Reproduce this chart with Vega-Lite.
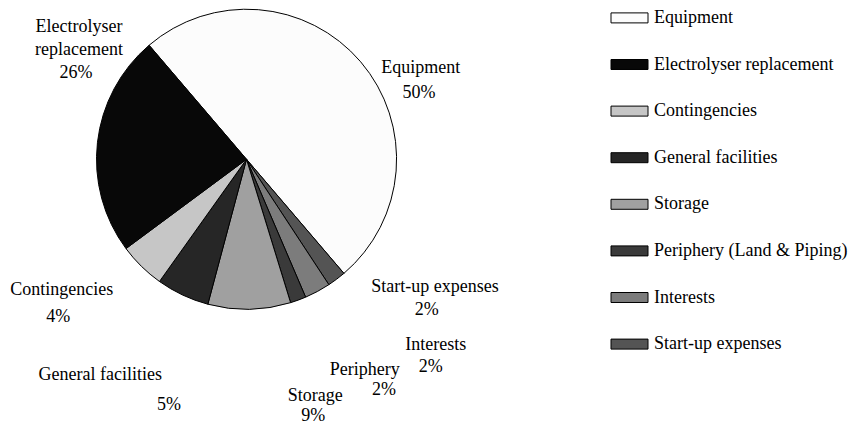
{
  "$schema": "https://vega.github.io/schema/vega-lite/v6.json",
  "width": 493,
  "height": 318.6,
  "autosize": "none",
  "padding": {"left": 0, "top": 0, "right": 363, "bottom": 106.4},
  "background": "white",
  "config": {"view": {"stroke": null}, "text": {"font": "Liberation Serif", "fontSize": 18, "fill": "black", "align": "center", "baseline": "middle", "radius": 150, "lineHeight": 23.3}},
  "data": {"values": [
    {"category": "Equipment", "label": "Equipment", "pct": "50%", "value": 50.0},
    {"category": "Start-up expenses", "label": "Start-up expenses", "pct": "2%", "value": 2.0},
    {"category": "Interests", "label": "Interests", "pct": "2%", "value": 2.8},
    {"category": "Periphery (Land & Piping)", "label": "Periphery", "pct": "2%", "value": 1.7},
    {"category": "Storage", "label": "Storage", "pct": "9%", "value": 8.9},
    {"category": "General facilities", "label": "General facilities", "pct": "5%", "value": 5.7},
    {"category": "Contingencies", "label": "Contingencies", "pct": "4%", "value": 5.0},
    {"category": "Electrolyser replacement", "label": "Electrolyser\nreplacement", "pct": "26%", "value": 23.9}
  ]},
  "transform": [
    {"stack": "value", "groupby": [], "as": ["v0", "v1"]},
    {"calculate": "(datum.v0 + datum.v1) / 2", "as": "vmid"}
  ],
  "layer": [
    {
      "mark": {"type": "arc", "radius": 150, "stroke": "black", "strokeWidth": 1},
      "encoding": {
        "theta": {"field": "v0", "type": "quantitative", "scale": {"domain": [0, 100], "range": [-0.70686, 5.57633]}},
        "theta2": {"field": "v1"},
        "color": {
          "field": "category", "type": "nominal",
          "scale": {
            "domain": ["Equipment", "Electrolyser replacement", "Contingencies", "General facilities", "Storage", "Periphery (Land & Piping)", "Interests", "Start-up expenses"],
            "range": ["#fcfcfc", "#080808", "#c6c6c6", "#262626", "#a0a0a0", "#3a3a3a", "#7c7c7c", "#545454"]
          },
          "legend": {
            "title": null, "orient": "none", "legendX": 610.5, "legendY": -1.1, "padding": 0,
            "symbolType": "M-1,-0.27H1V0.27H-1Z", "symbolSize": 1369,
            "symbolStrokeColor": "black", "symbolStrokeWidth": 1, "symbolOpacity": 1,
            "rowPadding": 18.6, "labelOffset": 5.5,
            "labelFont": "Liberation Serif", "labelFontSize": 18, "labelColor": "black", "labelLimit": 300
          }
        }
      }
    },
    {"transform": [{"filter": {"field": "category", "equal": "Equipment"}}], "mark": {"type": "text", "dx": 60.2, "dy": 6.4},
     "encoding": {"theta": {"field": "vmid", "type": "quantitative", "scale": {"domain": [0, 100], "range": [-0.70686, 5.57633]}}, "text": {"field": "label"}}},
    {"transform": [{"filter": {"field": "category", "equal": "Equipment"}}], "mark": {"type": "text", "dx": 58.4, "dy": 30.8},
     "encoding": {"theta": {"field": "vmid", "type": "quantitative", "scale": {"domain": [0, 100], "range": [-0.70686, 5.57633]}}, "text": {"field": "pct"}}},
    {"transform": [{"filter": {"field": "category", "equal": "Electrolyser replacement"}}], "mark": {"type": "text", "dx": -18.5, "dy": -115.8, "lineBreak": "\n"},
     "encoding": {"theta": {"field": "vmid", "type": "quantitative", "scale": {"domain": [0, 100], "range": [-0.70686, 5.57633]}}, "text": {"field": "label"}}},
    {"transform": [{"filter": {"field": "category", "equal": "Electrolyser replacement"}}], "mark": {"type": "text", "dx": -21.5, "dy": -69.7},
     "encoding": {"theta": {"field": "vmid", "type": "quantitative", "scale": {"domain": [0, 100], "range": [-0.70686, 5.57633]}}, "text": {"field": "pct"}}},
    {"transform": [{"filter": {"field": "category", "equal": "Contingencies"}}], "mark": {"type": "text", "dx": -79.7, "dy": 23.6},
     "encoding": {"theta": {"field": "vmid", "type": "quantitative", "scale": {"domain": [0, 100], "range": [-0.70686, 5.57633]}}, "text": {"field": "label"}}},
    {"transform": [{"filter": {"field": "category", "equal": "Contingencies"}}], "mark": {"type": "text", "dx": -83.2, "dy": 50.3},
     "encoding": {"theta": {"field": "vmid", "type": "quantitative", "scale": {"domain": [0, 100], "range": [-0.70686, 5.57633]}}, "text": {"field": "pct"}}},
    {"transform": [{"filter": {"field": "category", "equal": "General facilities"}}], "mark": {"type": "text", "dx": -82.3, "dy": 80},
     "encoding": {"theta": {"field": "vmid", "type": "quantitative", "scale": {"domain": [0, 100], "range": [-0.70686, 5.57633]}}, "text": {"field": "label"}}},
    {"transform": [{"filter": {"field": "category", "equal": "General facilities"}}], "mark": {"type": "text", "dx": -13.6, "dy": 110},
     "encoding": {"theta": {"field": "vmid", "type": "quantitative", "scale": {"domain": [0, 100], "range": [-0.70686, 5.57633]}}, "text": {"field": "pct"}}},
    {"transform": [{"filter": {"field": "category", "equal": "Storage"}}], "mark": {"type": "text", "dx": 66, "dy": 86.4},
     "encoding": {"theta": {"field": "vmid", "type": "quantitative", "scale": {"domain": [0, 100], "range": [-0.70686, 5.57633]}}, "text": {"field": "label"}}},
    {"transform": [{"filter": {"field": "category", "equal": "Storage"}}], "mark": {"type": "text", "dx": 64, "dy": 106.5},
     "encoding": {"theta": {"field": "vmid", "type": "quantitative", "scale": {"domain": [0, 100], "range": [-0.70686, 5.57633]}}, "text": {"field": "pct"}}},
    {"transform": [{"filter": {"field": "category", "equal": "Periphery (Land & Piping)"}}], "mark": {"type": "text", "dx": 66.5, "dy": 69.6},
     "encoding": {"theta": {"field": "vmid", "type": "quantitative", "scale": {"domain": [0, 100], "range": [-0.70686, 5.57633]}}, "text": {"field": "label"}}},
    {"transform": [{"filter": {"field": "category", "equal": "Periphery (Land & Piping)"}}], "mark": {"type": "text", "dx": 85.8, "dy": 90.2},
     "encoding": {"theta": {"field": "vmid", "type": "quantitative", "scale": {"domain": [0, 100], "range": [-0.70686, 5.57633]}}, "text": {"field": "pct"}}},
    {"transform": [{"filter": {"field": "category", "equal": "Interests"}}], "mark": {"type": "text", "dx": 118.3, "dy": 53.6},
     "encoding": {"theta": {"field": "vmid", "type": "quantitative", "scale": {"domain": [0, 100], "range": [-0.70686, 5.57633]}}, "text": {"field": "label"}}},
    {"transform": [{"filter": {"field": "category", "equal": "Interests"}}], "mark": {"type": "text", "dx": 113.3, "dy": 75.3},
     "encoding": {"theta": {"field": "vmid", "type": "quantitative", "scale": {"domain": [0, 100], "range": [-0.70686, 5.57633]}}, "text": {"field": "pct"}}},
    {"transform": [{"filter": {"field": "category", "equal": "Start-up expenses"}}], "mark": {"type": "text", "dx": 98.4, "dy": 8},
     "encoding": {"theta": {"field": "vmid", "type": "quantitative", "scale": {"domain": [0, 100], "range": [-0.70686, 5.57633]}}, "text": {"field": "label"}}},
    {"transform": [{"filter": {"field": "category", "equal": "Start-up expenses"}}], "mark": {"type": "text", "dx": 90.1, "dy": 30.7},
     "encoding": {"theta": {"field": "vmid", "type": "quantitative", "scale": {"domain": [0, 100], "range": [-0.70686, 5.57633]}}, "text": {"field": "pct"}}}
  ]
}
